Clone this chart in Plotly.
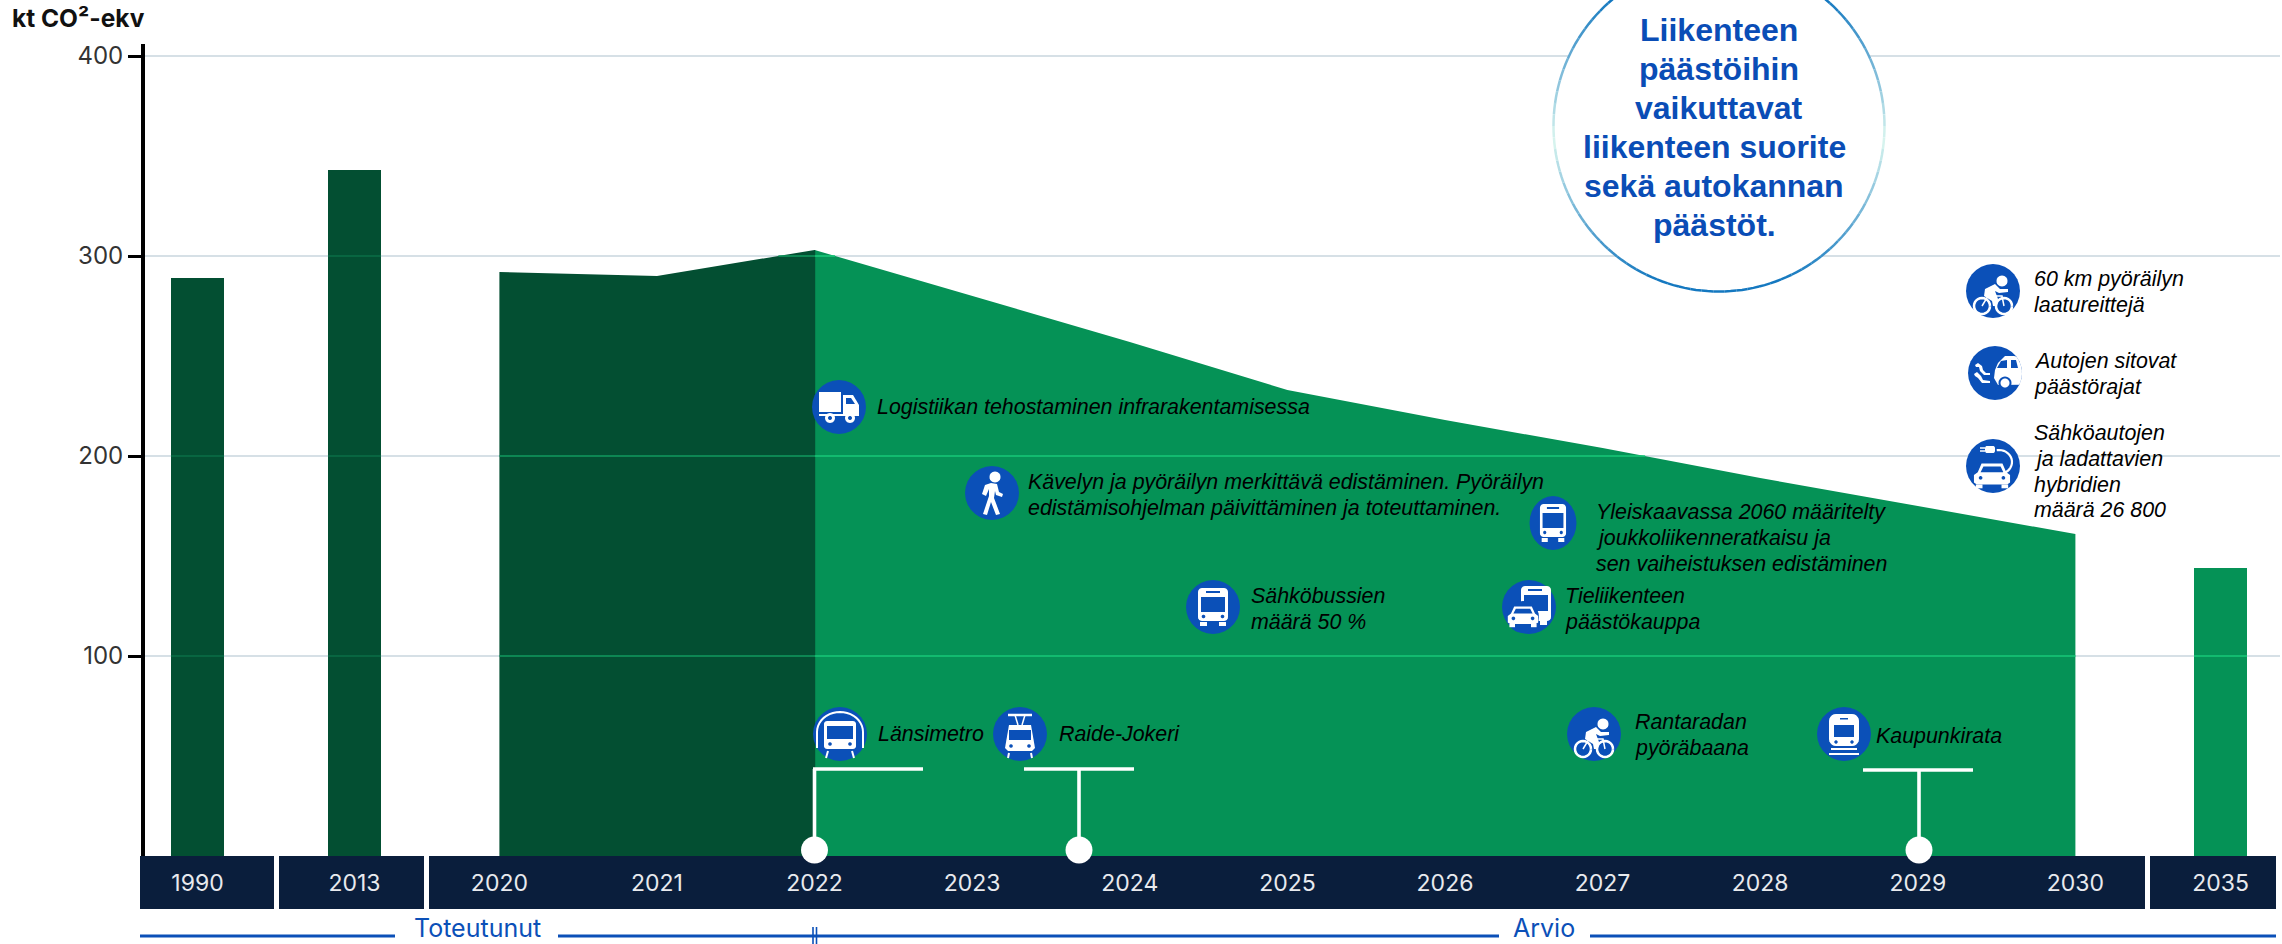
import math
import plotly.graph_objects as go

# ---- data ----
actual_bar_years = ["1990", "2013"]
actual_bar_values = [289, 343]
estimate_bar_years = ["2035"]
estimate_bar_values = [144]
actual_years = [2020, 2021, 2022]
actual_values = [292, 290, 303]
estimate_years = [2022, 2023, 2024, 2025, 2026, 2027, 2028, 2029, 2030]
estimate_values = [303, 280, 257, 233, 218, 204, 189, 175, 161]
tick_labels = ["1990", "2013", "2020", "2021", "2022", "2023", "2024", "2025",
               "2026", "2027", "2028", "2029", "2030", "2035"]
y_ticks = [100, 200, 300, 400]
y_title = "kt CO²-ekv"
circle_lines = ["Liikenteen", "päästöihin", "vaikuttavat", "liikenteen suorite", "sekä autokannan", "päästöt."]

# ---- styling / layout ----
W, H = 2282, 944
L, R, T, B = 145, 2280, 44, 856
DARK = "#034f32"; GREEN = "#059256"; NAVY = "#0a1e3c"; BLUE = "#0b50b8"
GRID = "#d6e0e6"; SANS = "Inter, Lato, sans-serif"; ARIAL = "Liberation Sans, Arial, sans-serif"
X0, STEP = 499.4, 157.6


def slot(label):
    special = {"1990": (197.5 - X0) / STEP, "2013": (354.5 - X0) / STEP, "2035": (2220.5 - X0) / STEP}
    return special[str(label)] if str(label) in special else int(label) - 2020


def px(x):
    return (x - L) / (R - L)


def py(y):
    return (B - y) / (B - T)


shapes, annotations = [], []


def path_from(points, close=True):
    s = "M" + " L".join(f"{x:.2f},{-y:.2f}" for x, y in points)
    return s + (" Z" if close else "")


def poly(cx, cy, points, color, line=0, close=True, xs=1.0):
    shapes.append(dict(type="path", xref="paper", yref="paper", xsizemode="pixel", ysizemode="pixel",
                       xanchor=px(cx), yanchor=py(cy), layer="above",
                       path=path_from([(x * xs, y) for x, y in points], close),
                       fillcolor=color if close else "rgba(0,0,0,0)",
                       line=dict(color=color if line else "rgba(0,0,0,0)", width=line)))


def ell(x, y, rx, ry=None, a0=0, a1=360, n=28):
    ry = rx if ry is None else ry
    return [(x + rx * math.cos(math.radians(a0 + (a1 - a0) * i / n)),
             y + ry * math.sin(math.radians(a0 + (a1 - a0) * i / n))) for i in range(n + 1)]


def rect(x0, y0, x1, y1):
    return [(x0, y0), (x1, y0), (x1, y1), (x0, y1)]


def rrect(x0, y0, x1, y1, r):
    return (ell(x0 + r, y0 + r, r, a0=180, a1=270, n=5) + ell(x1 - r, y0 + r, r, a0=270, a1=360, n=5) +
            ell(x1 - r, y1 - r, r, a0=0, a1=90, n=5) + ell(x0 + r, y1 - r, r, a0=90, a1=180, n=5))


W_ = "#ffffff"


def base(cx, cy, xs=1.0):
    poly(cx, cy, ell(0, 0, 27), BLUE, xs=xs)


def bus(cx, cy, xs=1.0):
    poly(cx, cy, rrect(-15, -19, 15, 14, 4), W_, xs=xs)
    poly(cx, cy, rect(-12, -10, 12, 5), BLUE, xs=xs)
    poly(cx, cy, rect(-7, -16, 7, -14), BLUE, xs=xs)
    poly(cx, cy, ell(-9.5, 9.5, 1.8), BLUE, xs=xs)
    poly(cx, cy, ell(9.5, 9.5, 1.8), BLUE, xs=xs)
    poly(cx, cy, rect(-13, 15, -6, 19), W_, xs=xs)
    poly(cx, cy, rect(6, 15, 13, 19), W_, xs=xs)


def truck(cx, cy):
    poly(cx, cy, rect(-20, -15, 2, 5), W_)
    poly(cx, cy, [(4, -12), (14, -12), (20, -2), (20, 7), (4, 7)], W_)
    poly(cx, cy, [(7, -9), (12, -9), (16, -3), (7, -3)], BLUE)
    poly(cx, cy, rect(-20, 7, 20, 9), W_)
    for wx in (-9, 11):
        poly(cx, cy, ell(wx, 11, 5), W_)
        poly(cx, cy, ell(wx, 11, 2), BLUE)


def walker(cx, cy):
    poly(cx, cy, ell(3, -16, 5.5), W_)
    poly(cx, cy, [(-7, -8), (-1, -10), (5, -9), (7, -1), (11, 1), (10, 4), (4, 2), (3, -2), (2, 5), (8, 21),
                  (4, 22), (-1, 9), (-5, 22), (-9, 21), (-3, 3), (-3, -4), (-6, 3), (-10, 1)], W_)


def cyclist(cx, cy):
    poly(cx, cy, ell(9, -10, 5.5), W_)
    poly(cx, cy, [(-8, -2), (2, -7), (7, -2), (15, -2), (15, 1), (6, 2), (2, 0), (5, 8), (4, 15), (0, 15),
                  (-1, 10), (-9, 5)], W_)
    poly(cx, cy, ell(-11, 15, 8, n=24), W_, line=2.5, close=False)
    poly(cx, cy, ell(11, 15, 8, n=24), W_, line=2.5, close=False)
    poly(cx, cy, [(-11, 15), (-5, 5), (9, 5), (11, 15)], W_, line=1.5, close=False)


def metro(cx, cy):
    poly(cx, cy, ell(0, -2, 23, 20, a0=180, a1=360, n=20) + [(23, 14)], W_, line=2, close=False)
    poly(cx, cy, [(-23, -2), (-23, 14)], W_, line=2, close=False)
    poly(cx, cy, rrect(-16, -13, 16, 15, 3), W_)
    poly(cx, cy, rect(-13, -8, 13, 5), BLUE)
    poly(cx, cy, ell(-10, 10, 1.8), BLUE)
    poly(cx, cy, ell(10, 10, 1.8), BLUE)
    poly(cx, cy, [(-12, 17), (-14, 24)], W_, line=2, close=False)
    poly(cx, cy, [(12, 17), (14, 24)], W_, line=2, close=False)


def tram(cx, cy):
    poly(cx, cy, [(-12, -19), (12, -19)], W_, line=2.5, close=False)
    poly(cx, cy, [(-5, -19), (-2, -9)], W_, line=1.5, close=False)
    poly(cx, cy, [(5, -19), (2, -9)], W_, line=1.5, close=False)
    poly(cx, cy, [(-11, -9), (11, -9), (15, 14), (12, 17), (-12, 17), (-15, 14)], W_)
    poly(cx, cy, rect(-11, -4, 11, 6), BLUE)
    poly(cx, cy, ell(-9, 12, 1.8), BLUE)
    poly(cx, cy, ell(9, 12, 1.8), BLUE)
    poly(cx, cy, [(-11, 19), (-12, 24)], W_, line=2, close=False)
    poly(cx, cy, [(11, 19), (12, 24)], W_, line=2, close=False)


def train(cx, cy):
    poly(cx, cy, rrect(-15, -20, 15, 12, 7), W_)
    poly(cx, cy, rect(-10, -9, 10, 3), BLUE)
    poly(cx, cy, rect(-4, -16, 4, -14.5), BLUE)
    poly(cx, cy, ell(-8, 8, 1.7), BLUE)
    poly(cx, cy, ell(8, 8, 1.7), BLUE)
    poly(cx, cy, [(-13, 15), (13, 15)], W_, line=2, close=False)
    poly(cx, cy, [(-15, 20), (15, 20)], W_, line=2, close=False)


def car(cx, cy, s=1.0, ox=0, oy=0):
    pts = [(-19, 8), (-19, 0), (-15, -3), (-11, -12), (11, -12), (15, -3), (19, 0), (19, 8), (16, 10), (-16, 10)]
    poly(cx, cy, [(x * s + ox, y * s + oy) for x, y in pts], W_)
    poly(cx, cy, [(x * s + ox, y * s + oy) for x, y in [(-9, -9), (9, -9), (12, -3), (-12, -3)]], BLUE)
    poly(cx, cy, ell(-12 * s + ox, 3 * s + oy, 1.8), BLUE)
    poly(cx, cy, ell(12 * s + ox, 3 * s + oy, 1.8), BLUE)
    poly(cx, cy, rect(-17 * s + ox, 10 * s + oy, -10 * s + ox, 14 * s + oy), W_)
    poly(cx, cy, rect(10 * s + ox, 10 * s + oy, 17 * s + ox, 14 * s + oy), W_)


def bus_car(cx, cy):
    poly(cx, cy, rrect(-8, -21, 22, 14, 4), W_)
    poly(cx, cy, rect(-5, -12, 19, 4), BLUE)
    poly(cx, cy, rect(-1, -18, 13, -16), BLUE)
    poly(cx, cy, rect(11, 14, 18, 18), W_)
    poly(cx, cy, ell(-6, 10, 16, 16), BLUE)
    car(cx, cy, 0.8, -6, 9)


def ev(cx, cy):
    car(cx, cy, 0.95, -1, 9)
    poly(cx, cy, ell(6, -4, 13, 12, a0=-100, a1=70, n=16), W_, line=2.2, close=False)
    poly(cx, cy, rrect(-8, -20, 2, -13, 2), W_)
    poly(cx, cy, [(-13, -18), (-8, -18)], W_, line=1.5, close=False)
    poly(cx, cy, [(-13, -15), (-8, -15)], W_, line=1.5, close=False)


def exhaust(cx, cy):
    poly(cx, cy, [(19, -17), (10, -17), (3, -10), (0, -3), (-1, 5), (3, 12)] + ell(0, 0, 27, a0=26, a1=-38, n=8), W_)
    poly(cx, cy, [(6, -12), (12, -13), (12, -5), (2, -5)], BLUE)
    poly(cx, cy, [(16, -13), (21, -13), (23, -5), (16, -5)], BLUE)
    poly(cx, cy, ell(10, 10, 6.5), BLUE)
    poly(cx, cy, ell(10, 10, 4.5), W_)
    poly(cx, cy, [(-20, -8), (-17, -10), (-13, -7), (-12, -3), (-9, 0), (-5, 0), (-5, 2), (-11, 2), (-15, -2), (-16, -6), (-19, -6)], W_)
    poly(cx, cy, [(-21, 1), (-18, -1), (-14, 3), (-12, 7), (-5, 8), (-5, 10), (-13, 10), (-17, 5), (-20, 3)], W_)


# (icon function, cx, cy, text lines, text left, first line centre y)
items = [
    (truck, 839, 407, ["Logistiikan tehostaminen infrarakentamisessa"], 875, 407),
    (walker, 992, 493, ["Kävelyn ja pyöräilyn merkittävä edistäminen. Pyöräilyn",
                        "edistämisohjelman päivittäminen ja toteuttaminen."], 1026, 482),
    (bus, 1213, 607, ["Sähköbussien", "määrä 50 %"], 1249, 596),
    (None, 1553, 523, ["Yleiskaavassa 2060 määritelty", "joukkoliikenneratkaisu ja",
                       "sen vaiheistuksen edistäminen"], 1594, 512),
    (bus_car, 1529, 607, ["Tieliikenteen", "päästökauppa"], 1563, 596),
    (cyclist, 1594, 734, ["Rantaradan", "pyöräbaana"], 1633, 722),
    (train, 1844, 734, ["Kaupunkirata"], 1874, 736),
    (metro, 840, 734, ["Länsimetro"], 876, 734),
    (tram, 1020, 734, ["Raide-Jokeri"], 1057, 734),
    (cyclist, 1993, 291, ["60 km pyöräilyn", "laatureittejä"], 2032, 279),
    (exhaust, 1995, 373, ["Autojen sitovat", "päästörajat"], 2032, 361),
    (ev, 1993, 466, ["Sähköautojen", "ja ladattavien", "hybridien", "määrä 26 800"], 2032, 433),
]
LINE_GAP = 25.8

# navy band (below cartesian layer so tick labels stay visible)
for x0, x1 in [(140, 274), (279, 424), (429, 2145), (2150, 2276)]:
    shapes.append(dict(type="rect", xref="paper", yref="paper", x0=px(x0), x1=px(x1), y0=py(856), y1=py(909),
                       fillcolor=NAVY, line_width=0, layer="below"))

# bottom time line
for x0, x1 in [(140, 395), (558, 1499), (1590, 2276)]:
    shapes.append(dict(type="line", xref="paper", yref="paper", x0=px(x0), x1=px(x1), y0=py(936), y1=py(936),
                       line=dict(color=BLUE, width=3), layer="above"))
for x in (813, 816.5):
    shapes.append(dict(type="line", xref="paper", yref="paper", x0=px(x), x1=px(x), y0=py(927), y1=py(944),
                       line=dict(color=BLUE, width=1.6), layer="above"))

# connectors with dots
for hx0, hx1, vx, hy in [(813, 923, 814.5, 769), (1024, 1134, 1079, 769), (1863, 1973, 1919, 770)]:
    for a, b, c, d in [(hx0, hx1, hy, hy), (vx, vx, hy, 845)]:
        shapes.append(dict(type="line", xref="paper", yref="paper", x0=px(a), x1=px(b), y0=py(c), y1=py(d),
                           line=dict(color=W_, width=3.6), layer="above"))
    poly(vx, 850, ell(0, 0, 13.5), W_)

# callout circle with vertically graded outline
CX, CY, RAD = 1719, 126, 165.5
poly(CX, CY, ell(0, 0, RAD, n=72), W_)
seg = 90
for i in range(seg):
    a0, a1 = 360 * i / seg, 360 * (i + 1) / seg
    ym = math.sin(math.radians((a0 + a1) / 2))
    t = min(1.0, abs(ym - 0.08) / 0.85)
    c0, c1 = (220, 247, 240), (20, 120, 192)
    col = "rgb(%d,%d,%d)" % tuple(c0[k] + (c1[k] - c0[k]) * t for k in range(3))
    poly(CX, CY, ell(0, 0, RAD, a0=a0, a1=a1, n=2), col, line=2.5, close=False)

for i, (line, xc) in enumerate(zip(circle_lines, [1719, 1719, 1719, 1714, 1714, 1714])):
    annotations.append(dict(text=f"<b>{line}</b>", xref="paper", yref="paper", x=px(xc), y=py(30 + 39 * i),
                            xanchor="center", yanchor="middle", align="center", showarrow=False,
                            font=dict(family=ARIAL, size=32, color="#0a4db6")))

for fn, cx, cy, lines, tx, ty in items:
    if fn is None:
        base(cx, cy, xs=0.87)
        bus(cx, cy, xs=0.87)
    else:
        base(cx, cy)
        fn(cx, cy)
    for i, line in enumerate(lines):
        annotations.append(dict(text=f"<i>{line}</i>", xref="paper", yref="paper", x=px(tx), y=py(ty + LINE_GAP * i),
                                xanchor="left", yanchor="middle", align="left", showarrow=False,
                                font=dict(family=ARIAL, size=21.4, color="#000000")))

annotations.append(dict(text=f"<b>{y_title}</b>", xref="paper", yref="paper", x=px(10), y=py(18), xanchor="left",
                        yanchor="middle", showarrow=False, font=dict(family=SANS, size=24.5, color="#111111")))
for text, x in [("Toteutunut", 477), ("Arvio", 1544)]:
    annotations.append(dict(text=text, xref="paper", yref="paper", x=px(x), y=py(928), xanchor="center",
                            yanchor="middle", showarrow=False, font=dict(family=SANS, size=25, color=BLUE)))

fig = go.Figure()
fig.add_trace(go.Bar(x=[slot(y) for y in actual_bar_years], y=actual_bar_values, width=53 / STEP,
                     marker=dict(color=DARK, line_width=0), name="Toteutunut"))
fig.add_trace(go.Bar(x=[slot(y) for y in estimate_bar_years], y=estimate_bar_values, width=53 / STEP,
                     marker=dict(color=GREEN, line_width=0), name="Arvio"))
fig.add_trace(go.Scatter(x=[slot(y) for y in estimate_years], y=estimate_values, mode="lines", fill="tozeroy",
                         fillcolor=GREEN, line=dict(color=GREEN, width=0), name="Arvio"))
fig.add_trace(go.Scatter(x=[slot(y) for y in actual_years], y=actual_values, mode="lines", fill="tozeroy",
                         fillcolor=DARK, line=dict(color=DARK, width=0), name="Toteutunut"))
# closes the hairline seam between the two areas
fig.add_trace(go.Scatter(x=[slot(2022), slot(2022)], y=[0, actual_values[-1]], mode="lines",
                         line=dict(color=DARK, width=1.2), hoverinfo="skip"))

# gridlines glow where they cross the filled marks
half = 26.5 / STEP
for level, x0, x1, col in [(100, 0, 2, "#129a5f"), (200, 0, 2, "#129a5f"), (100, 2, 10, "#17c878"),
                           (200, 2, 7.27, "#17c878"), (300, 2, 2.13, "#17c878"), (300, 1.77, 2, "#129a5f"),
                           (100, slot("1990") - half, slot("1990") + half, "#0b6e47"),
                           (200, slot("1990") - half, slot("1990") + half, "#0b6e47"),
                           (100, slot("2013") - half, slot("2013") + half, "#0b6e47"),
                           (200, slot("2013") - half, slot("2013") + half, "#0b6e47"),
                           (300, slot("2013") - half, slot("2013") + half, "#0b6e47"),
                           (100, slot("2035") - half, slot("2035") + half, "#17c878")]:
    fig.add_trace(go.Scatter(x=[x0, x1], y=[level, level], mode="lines", line=dict(color=col, width=1.6),
                             hoverinfo="skip"))

fig.update_layout(
    width=W, height=H, showlegend=False, plot_bgcolor="#ffffff", paper_bgcolor="#ffffff",
    margin=dict(l=L, r=W - R, t=T, b=H - B, autoexpand=False), barmode="overlay",
    shapes=shapes, annotations=annotations,
    xaxis=dict(range=[(L - X0) / STEP, (R - X0) / STEP], tickmode="array",
               tickvals=[slot(t) for t in tick_labels], ticktext=tick_labels, showgrid=False, zeroline=False,
               showline=False, ticks="outside", ticklen=6, tickcolor="rgba(0,0,0,0)", tickangle=0,
               tickfont=dict(family=SANS, size=23, color="#e8eaee")),
    yaxis=dict(range=[0, 406], tickmode="array", tickvals=y_ticks, showgrid=True, gridcolor=GRID, gridwidth=1.6,
               zeroline=False, showline=True, linecolor="#000000", linewidth=4, ticks="outside", ticklen=13,
               tickwidth=3, tickcolor="#000000", tickfont=dict(family=SANS, size=24, color="#333333")),
)
fig.write_html("out.html", config={"displayModeBar": False},
               post_script="document.body.style.margin='0';document.documentElement.style.overflow='hidden';")
